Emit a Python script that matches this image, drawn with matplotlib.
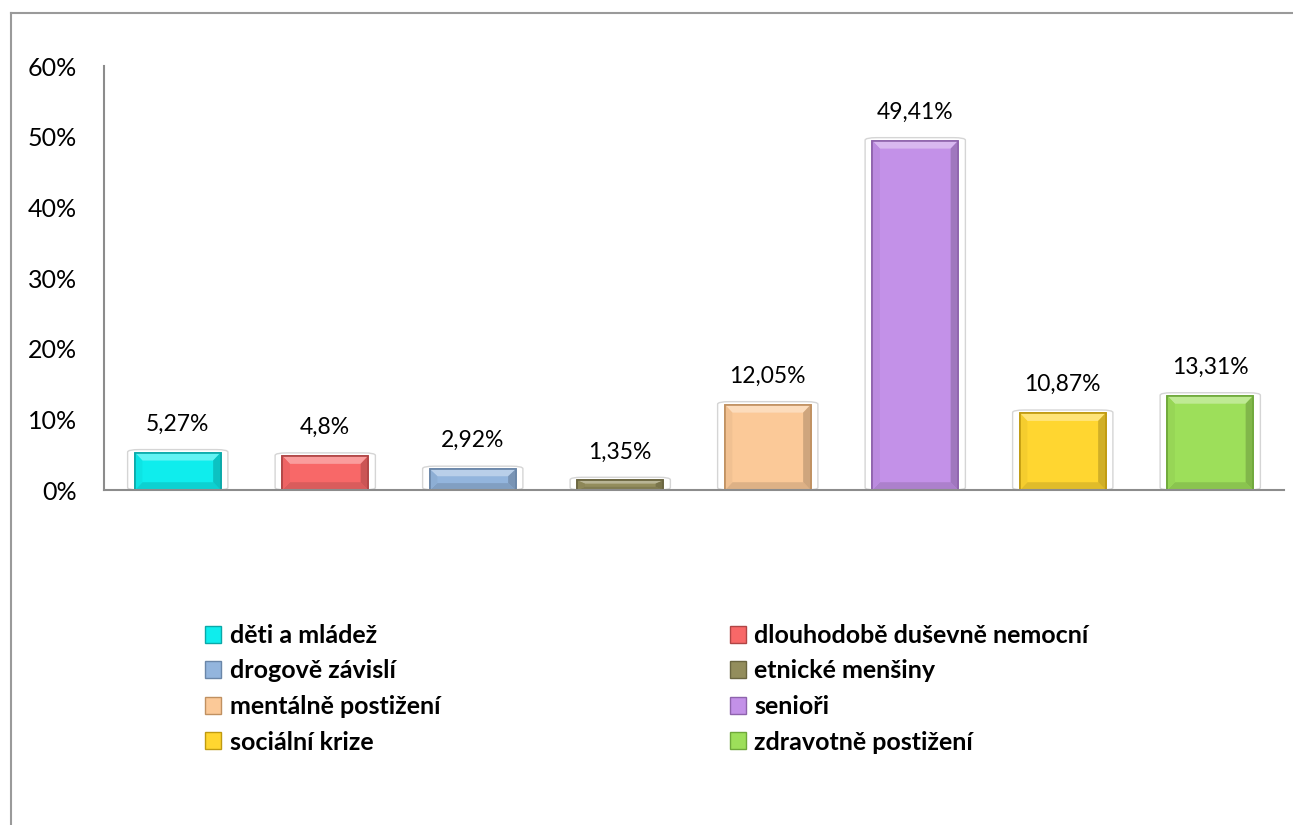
import matplotlib
matplotlib.use("Agg")
import matplotlib.pyplot as plt
from matplotlib.patches import FancyBboxPatch, Rectangle, Polygon
from matplotlib.lines import Line2D
from matplotlib.ticker import FuncFormatter
import matplotlib.colors as mcolors
import numpy as np

categories = ["děti a mládež", "dlouhodobě duševně nemocní", "drogově závislí",
              "etnické menšiny", "mentálně postižení", "senioři",
              "sociální krize", "zdravotně postižení"]
values = [5.27, 4.8, 2.92, 1.35, 12.05, 49.41, 10.87, 13.31]
labels = ["5,27%", "4,8%", "2,92%", "1,35%", "12,05%", "49,41%", "10,87%", "13,31%"]
colors = ["#0FEDED", "#F86868", "#93B5DD", "#938D5C", "#FBC998", "#C391E8", "#FFD630", "#9DDF5A"]
edges = ["#0AA8A8", "#B04545", "#6A86A8", "#6A6540", "#C09060", "#8E63AC", "#C09A10", "#6EA83A"]
yticks = [0, 10, 20, 30, 40, 50, 60]

plt.rcParams['font.family'] = ['Lato', 'DejaVu Sans']


def mix(c, other, t):
    a = np.array(mcolors.to_rgb(c))
    b = np.array(mcolors.to_rgb(other))
    return tuple(a * (1 - t) + b * t)


W, H = 1293, 825
fig = plt.figure(figsize=(W / 100, H / 100), dpi=100)

# outer chart border (top and left visible)
fig.add_artist(Line2D([11 / W, 1], [1 - 13 / H, 1 - 13 / H], color="#9A9A9A", lw=1.5))
fig.add_artist(Line2D([11 / W, 11 / W], [0, 1 - 13 / H], color="#9A9A9A", lw=1.5))

ax = fig.add_axes([104 / W, 1 - 490 / H, (1284 - 104) / W, (490 - 66) / H])
x = list(range(len(values)))
bw = 0.58
# light rounded shadow frames
for xi, v in zip(x, values):
    ax.add_patch(FancyBboxPatch((xi - bw / 2 - 0.05, 0), bw + 0.10, v + 0.45,
                                boxstyle="round,pad=0,rounding_size=0.08",
                                mutation_aspect=4.5, fc="white", ec="#D5D5D5",
                                lw=1.0, zorder=1))
bars = ax.bar(x, values, width=bw, color=colors, edgecolor=edges, linewidth=1.2, zorder=2)

# bevel effect
bx = 0.05
for xi, v, c in zip(x, values, colors):
    by = min(1.1, v / 3.0)
    l, r = xi - bw / 2, xi + bw / 2
    top = [(l, v), (r, v), (r - bx, v - by), (l + bx, v - by)]
    bot = [(l, 0), (r, 0), (r - bx, by), (l + bx, by)]
    lft = [(l, 0), (l, v), (l + bx, v - by), (l + bx, by)]
    rgt = [(r, 0), (r, v), (r - bx, v - by), (r - bx, by)]
    ax.add_patch(Polygon(top, closed=True, fc=mix(c, "white", 0.35), ec="none", zorder=3))
    ax.add_patch(Polygon(bot, closed=True, fc=mix(c, "black", 0.12), ec="none", zorder=3))
    ax.add_patch(Polygon(lft, closed=True, fc=mix(c, "black", 0.04), ec="none", zorder=3))
    ax.add_patch(Polygon(rgt, closed=True, fc=mix(c, "black", 0.18), ec="none", zorder=3))
ax.bar(x, values, width=bw, fill=False, edgecolor=edges, linewidth=1.2, zorder=4)

for xi, v, lab in zip(x, values, labels):
    ax.annotate(lab, (xi, v), xytext=(0, 13), textcoords="offset points",
                ha="center", va="bottom", fontsize=16.5, color="black")

ax.set_xlim(-0.5, len(values) - 0.5)
ax.set_ylim(0, 60)
ax.set_yticks(yticks)
ax.yaxis.set_major_formatter(FuncFormatter(lambda v, p: f"{int(v)}%"))
ax.tick_params(axis="y", length=0, labelsize=18, pad=19.5)
ax.set_xticks([])
for s in ["top", "right"]:
    ax.spines[s].set_visible(False)
ax.spines["left"].set_color("#8C8C8C")
ax.spines["bottom"].set_color("#8C8C8C")
ax.spines["left"].set_linewidth(1.5)
ax.spines["bottom"].set_linewidth(1.5)
ax.spines["left"].set_zorder(5)
ax.spines["bottom"].set_zorder(5)

handles = [Rectangle((0, 0), 1, 1, fc=c, ec=e, lw=1) for c, e in zip(colors, edges)]
# order rows: col1 = even indices, col2 = odd indices
order = [0, 2, 4, 6, 1, 3, 5, 7]
leg = fig.legend([handles[i] for i in order], [categories[i] for i in order],
                 ncol=2, loc="upper left", bbox_to_anchor=(205 / W, 1 - 624 / H),
                 frameon=False, prop={"weight": "bold", "size": 18},
                 handlelength=0.65, handleheight=0.65, handletextpad=0.35,
                 labelspacing=0.5, columnspacing=11.56, borderaxespad=0, borderpad=0)

fig.savefig("out.png", dpi=100)
